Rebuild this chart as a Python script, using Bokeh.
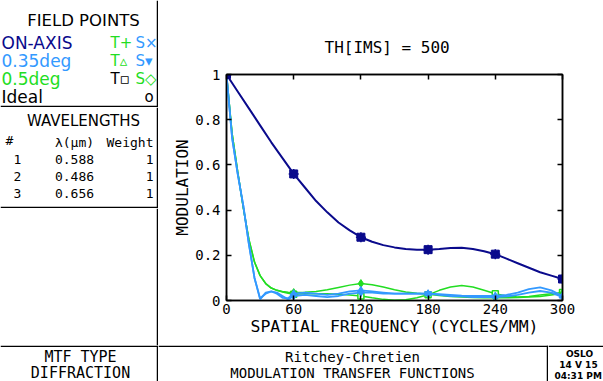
from bokeh.plotting import figure
from bokeh.layouts import row, column
from bokeh.models import Range1d, LinearAxis, FixedTicker, Title, Span
from bokeh.embed import file_html
from bokeh.resources import INLINE
from bokeh.core.properties import value

SANS = "DejaVu Sans"
MONO = "DejaVu Sans Mono"

# ---------------- data ----------------
x_ticks = [0, 60, 120, 180, 240, 300]
y_ticks = [0, 0.2, 0.4, 0.6, 0.8, 1.0]

on_freq = [0, 10, 20, 30, 40, 50, 60, 70, 80, 90, 100, 110, 120, 130, 140, 150,
           160, 170, 180, 190, 200, 210, 220, 230, 240, 250, 260, 270, 280, 290, 300]
on_axis = [1.0, 0.925, 0.85, 0.775, 0.70, 0.63, 0.56, 0.50, 0.44, 0.39, 0.345, 0.31,
           0.28, 0.26, 0.245, 0.235, 0.228, 0.225, 0.225, 0.228, 0.232, 0.233, 0.228,
           0.218, 0.205, 0.185, 0.165, 0.145, 0.125, 0.11, 0.095]

freq = [0, 5, 10, 15, 20, 25, 30, 35, 40, 45, 50, 55, 60, 70, 80, 90, 100, 110, 120,
        130, 140, 150, 160, 170, 180, 190, 200, 210, 220, 230, 240, 250, 260, 270, 280,
        290, 300]
deg035_T = [1.0, 0.72, 0.56, 0.42, 0.25, 0.10, 0.005, 0.035, 0.04, 0.03, 0.012, 0.01, 0.03,
            0.035, 0.03, 0.025, 0.03, 0.04, 0.045, 0.04, 0.035, 0.03, 0.03, 0.03, 0.03,
            0.028, 0.025, 0.022, 0.02, 0.02, 0.02, 0.025, 0.035, 0.05, 0.058, 0.045, 0.02]
deg035_S = [1.0, 0.72, 0.56, 0.42, 0.25, 0.10, 0.01, 0.03, 0.04, 0.035, 0.02, 0.005, 0.02,
            0.025, 0.02, 0.015, 0.02, 0.03, 0.035, 0.035, 0.03, 0.03, 0.03, 0.03, 0.03,
            0.025, 0.02, 0.018, 0.015, 0.015, 0.015, 0.018, 0.025, 0.035, 0.042, 0.035, 0.015]
deg05_T = [1.0, 0.74, 0.57, 0.41, 0.27, 0.17, 0.11, 0.075, 0.055, 0.045, 0.038, 0.032, 0.028,
           0.03, 0.03, 0.03, 0.028, 0.024, 0.02, 0.012, 0.005, 0.001, 0.003, 0.012, 0.025,
           0.045, 0.06, 0.066, 0.06, 0.045, 0.03, 0.02, 0.016, 0.018, 0.024, 0.03, 0.035]
deg05_S = [1.0, 0.74, 0.57, 0.41, 0.27, 0.17, 0.11, 0.075, 0.055, 0.045, 0.04, 0.036, 0.035,
           0.036, 0.04, 0.048, 0.058, 0.068, 0.075, 0.07, 0.06, 0.048, 0.038, 0.032, 0.028,
           0.022, 0.018, 0.015, 0.013, 0.012, 0.012, 0.012, 0.013, 0.015, 0.018, 0.024, 0.032]

field_labels = ["ON-AXIS", "0.35deg", "0.5deg", "Ideal"]
t_symbols = ["T+", "T\u25b5", "T\u25ab"]
s_symbols = ["S\u00d7", "S\u25be", "S\u25c7", "o"]

wl_num = ["1", "2", "3"]
wl_lambda = ["0.588", "0.486", "0.656"]
wl_weight = ["1", "1", "1"]

NAVY = "#0a0a8c"
BLUE = "#3399ff"
GREEN = "#22dd22"
BLACK = "#000000"
field_colors = [NAVY, BLUE, GREEN, BLACK]
t_colors = [GREEN, GREEN, BLACK]
s_colors = [BLUE, BLUE, GREEN, BLACK]

LW = 1.5


def panel(w, h):
    f = figure(width=w, height=h, x_range=Range1d(0, w), y_range=Range1d(h, 0),
               output_backend="svg", toolbar_location=None, min_border=0,
               x_axis_type=None, y_axis_type=None, outline_line_color=None)
    f.grid.visible = False
    return f


def vline(f, x):
    f.add_layout(Span(location=x, dimension="height", line_color=BLACK, line_width=LW))


def hline(f, y):
    f.add_layout(Span(location=y, dimension="width", line_color=BLACK, line_width=LW))


LEFT_W = 158

# ---------------- field points panel ----------------
fp = panel(LEFT_W, 107)
fp.text(x=[83], y=[20], text=["FIELD POINTS"], text_font=value(SANS),
        text_font_size="16.5px", text_align="center", text_baseline="middle",
        text_color=BLACK)
rows_y = [42 + 18 * i for i in range(len(field_labels))]
fp.text(x=[1] * 4, y=rows_y, text=field_labels, text_color=field_colors,
        text_font=value(SANS), text_font_size="17px", text_baseline="middle")
fp.text(x=[110] * 3, y=rows_y[:3], text=t_symbols, text_color=t_colors,
        text_font=value(SANS), text_font_size="15px", text_baseline="middle")
fp.text(x=[135] * 3 + [144], y=rows_y, text=s_symbols, text_color=s_colors,
        text_font=value(SANS), text_font_size="15px", text_baseline="middle")
vline(fp, LEFT_W - 1)
hline(fp, 106)

# ---------------- wavelengths panel ----------------
wl = panel(LEFT_W, 101)
wl.text(x=[83], y=[13], text=["WAVELENGTHS"], text_font=value(SANS),
        text_font_size="15px", text_align="center", text_baseline="middle")
wl.text(x=[5], y=[33], text=["#"], text_font=value(MONO), text_font_size="13px",
        text_baseline="middle")
wl.text(x=[74], y=[35], text=["\u03bb(\u03bcm)"], text_font=value(MONO),
        text_font_size="13px", text_align="center", text_baseline="middle")
wl.text(x=[153], y=[35], text=["Weight"], text_font=value(MONO),
        text_font_size="13px", text_align="right", text_baseline="middle")
wl_y = [52 + 17 * i for i in range(len(wl_num))]
wl.text(x=[13] * 3, y=wl_y, text=wl_num, text_font=value(MONO),
        text_font_size="13px", text_baseline="middle")
wl.text(x=[74] * 3, y=wl_y, text=wl_lambda, text_font=value(MONO),
        text_font_size="13px", text_align="center", text_baseline="middle")
wl.text(x=[153] * 3, y=wl_y, text=wl_weight, text_font=value(MONO),
        text_font_size="13px", text_align="right", text_baseline="middle")
vline(wl, LEFT_W - 1)
hline(wl, 100)

blank = panel(LEFT_W, 137)
vline(blank, LEFT_W - 1)

# ---------------- main MTF plot ----------------
p = figure(width=603 - LEFT_W, height=345, x_range=Range1d(0, 300), y_range=Range1d(0, 1),
           output_backend="svg", toolbar_location=None,
           min_border_left=68, min_border_right=41, min_border_top=74, min_border_bottom=45)
p.grid.visible = False
p.outline_line_color = BLACK
p.outline_line_width = LW
p.background_fill_color = "white"
p.border_fill_color = "white"

for ax in [p.xaxis[0], p.yaxis[0]]:
    ax.axis_line_width = LW
    ax.axis_line_color = BLACK
    ax.major_tick_in = 5
    ax.major_tick_out = 0
    ax.major_tick_line_width = LW
    ax.minor_tick_line_color = None
    ax.major_label_text_font = MONO
    ax.major_label_text_font_size = "14px"
    ax.major_label_text_color = BLACK
    ax.axis_label_text_font = MONO
    ax.axis_label_text_font_style = "normal"
    ax.axis_label_text_color = BLACK
p.xaxis.axis_label_text_font_size = "16.5px"
p.yaxis.axis_label_text_font_size = "16px"
p.xaxis.ticker = FixedTicker(ticks=x_ticks)
p.yaxis.ticker = FixedTicker(ticks=y_ticks)
p.yaxis.major_label_overrides = {0: "0", 0.2: "0.2", 0.4: "0.4", 0.6: "0.6", 0.8: "0.8", 1.0: "1"}
p.xaxis.axis_label = "SPATIAL FREQUENCY (CYCLES/MM)"
p.yaxis.axis_label = "MODULATION"
p.xaxis.major_label_standoff = 3
p.xaxis.axis_label_standoff = 0
p.yaxis.major_label_standoff = 6
p.yaxis.axis_label_standoff = 0

top_ax = LinearAxis(ticker=FixedTicker(ticks=x_ticks), major_tick_in=5, major_tick_out=0,
                    major_label_text_font_size="0px", minor_tick_line_color=None,
                    axis_line_width=LW, major_tick_line_width=LW, major_label_standoff=0)
right_ax = LinearAxis(ticker=FixedTicker(ticks=y_ticks), major_tick_in=5, major_tick_out=0,
                      major_label_text_font_size="0px", minor_tick_line_color=None,
                      axis_line_width=LW, major_tick_line_width=LW, major_label_standoff=0)
p.add_layout(top_ax, "above")
p.add_layout(right_ax, "right")

p.add_layout(Title(text="TH[IMS] = 500", align="left", offset=98, standoff=36,
                   text_font=MONO, text_font_size="16px", text_font_style="normal",
                   text_color=BLACK), "above")

mk = [i for i, f in enumerate(freq) if f in x_ticks]
mk_on = [i for i, f in enumerate(on_freq) if f in x_ticks]

# 0.5 deg (green)
p.line(freq, deg05_T, line_color=GREEN, line_width=1.5)
p.line(freq, deg05_S, line_color=GREEN, line_width=1.5)
p.scatter([freq[i] for i in mk], [deg05_T[i] for i in mk], marker="square", size=6,
          line_color=GREEN, fill_color="white", line_width=1.5)
p.scatter([freq[i] for i in mk], [deg05_S[i] for i in mk], marker="diamond", size=8,
          line_color=GREEN, fill_color=GREEN, line_width=1)
# 0.35 deg (blue)
p.line(freq, deg035_T, line_color=BLUE, line_width=1.8)
p.line(freq, deg035_S, line_color=BLUE, line_width=1.8)
p.scatter([freq[i] for i in mk], [deg035_T[i] for i in mk], marker="triangle", size=7,
          line_color=BLUE, fill_color=BLUE)
p.scatter([freq[i] for i in mk], [deg035_S[i] for i in mk], marker="inverted_triangle", size=7,
          line_color=BLUE, fill_color=BLUE)
# on-axis (navy), T and S identical
p.line(on_freq, on_axis, line_color=NAVY, line_width=2)
p.scatter([on_freq[i] for i in mk_on], [on_axis[i] for i in mk_on], marker="square", size=8,
          line_color=NAVY, fill_color=NAVY)
p.scatter([on_freq[i] for i in mk_on], [on_axis[i] for i in mk_on], marker="cross", size=10,
          line_color=NAVY, line_width=1.5)
p.scatter([on_freq[i] for i in mk_on], [on_axis[i] for i in mk_on], marker="x", size=10,
          line_color=NAVY, line_width=1.5)

# ---------------- bottom row ----------------
B_H = 36
b1 = panel(LEFT_W, B_H)
b1.text(x=[80] * 2, y=[11, 27], text=["MTF TYPE", "DIFFRACTION"],
        text_font=value(MONO), text_font_size="15px", text_align="center",
        text_baseline="middle")
hline(b1, 0.75)
vline(b1, LEFT_W - 1)

b2 = panel(548 - LEFT_W, B_H)
b2.text(x=[(548 - LEFT_W) / 2 - 1] * 2, y=[11, 27],
        text=["Ritchey-Chretien", "MODULATION TRANSFER FUNCTIONS"],
        text_font=value(MONO), text_font_size="14px", text_align="center",
        text_baseline="middle")
hline(b2, 0.75)
vline(b2, 548 - LEFT_W - 1)

b3 = panel(603 - 548, B_H)
b3.text(x=[31, 30, 6], y=[8, 19, 30], text=["OSLO", "14 V 15", "04:31 PM"],
        text_font=value(SANS), text_font_size="9px", text_font_style="bold",
        text_align=["center", "center", "left"], text_baseline="middle")
hline(b3, 0.75)

layout = column(row(column(fp, wl, blank, spacing=0), p, spacing=0),
                row(b1, b2, b3, spacing=0), spacing=0)

open("out.html", "w").write(file_html(layout, INLINE))
